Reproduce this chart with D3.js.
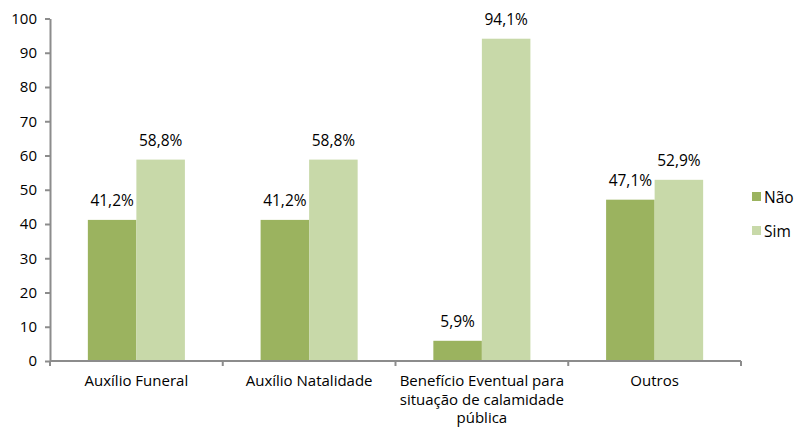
<!DOCTYPE html>
<html><head><meta charset="utf-8">
<script src="https://cdn.jsdelivr.net/npm/d3@7"></script>
<style>body{margin:0;background:#fff}text{font-family:"Open Sans","Noto Sans",sans-serif}</style>
</head><body>
<svg id="c" width="795" height="427"></svg>
<script>
const categories = [["Auxílio Funeral"],["Auxílio Natalidade"],["Benefício Eventual para","situação de calamidade","pública"],["Outros"]];
const seriesNames = ["Não","Sim"];
const nao = [41.2, 41.2, 5.9, 47.1];
const sim = [58.8, 58.8, 94.1, 52.9];
const yTicks = [0,10,20,30,40,50,60,70,80,90,100];
const colors = ["#9bb35f","#c8d9a9"];

const svg = d3.select("#c");
const x0 = 50, x1 = 741, yTop = 18.5, yBot = 361;
const x = d3.scaleBand().domain(d3.range(categories.length)).range([x0,x1]);
const xs = d3.scaleBand().domain([0,1]).range([0,x.bandwidth()]).paddingInner(0).paddingOuter(0.78);
const y = d3.scaleLinear().domain([0,100]).range([yBot,yTop]);
const axisColor = "#8c8c8c";

// bars
const data = [nao, sim];
data.forEach((vals,s)=>{
  svg.append("g").selectAll("rect").data(vals).join("rect")
    .attr("x",(d,i)=>x(i)+xs(s)).attr("width",xs.bandwidth())
    .attr("y",d=>y(d)).attr("height",d=>yBot-y(d)).attr("fill",colors[s]);
  svg.append("g").selectAll("text").data(vals).join("text")
    .attr("x",(d,i)=>x(i)+xs(s)+xs.bandwidth()/2).attr("y",d=>y(d)-14)
    .attr("text-anchor","middle").attr("font-size",15.5).attr("fill","#000")
    .text(d=>d.toFixed(1).replace(".",",")+"%");
});

// y axis
const ya = svg.append("g").attr("transform",`translate(${x0},0)`)
  .call(d3.axisLeft(y).tickValues(yTicks).tickSize(5).tickSizeOuter(0).tickPadding(8));
ya.select(".domain").attr("stroke",axisColor).attr("stroke-width",2);
ya.selectAll(".tick line").attr("stroke",axisColor).attr("stroke-width",2);
ya.selectAll(".tick text").attr("font-size",15).attr("fill","#000").attr("font-family","'Open Sans','Noto Sans',sans-serif");

// x axis
svg.append("line").attr("x1",x0).attr("x2",x1).attr("y1",yBot).attr("y2",yBot).attr("stroke",axisColor).attr("stroke-width",2);
const bounds = d3.range(categories.length+1).map(i=> i<categories.length ? x(i) : x1);
svg.append("g").selectAll("line").data(bounds).join("line")
  .attr("x1",d=>d).attr("x2",d=>d).attr("y1",yBot).attr("y2",yBot+5).attr("stroke",axisColor).attr("stroke-width",2);
categories.forEach((lines,i)=>{
  lines.forEach((l,j)=>svg.append("text").attr("x",x(i)+x.bandwidth()/2).attr("y",386+j*18.5)
    .attr("text-anchor","middle").attr("font-size",15).attr("fill","#000").text(l));
});

// legend
seriesNames.forEach((n,i)=>{
  const cy = 197 + i*34;
  svg.append("rect").attr("x",752).attr("y",cy-5).attr("width",9).attr("height",9).attr("fill",colors[i]);
  svg.append("text").attr("x",764).attr("y",cy+5.5).attr("font-size",15.5).attr("fill","#000").text(n);
});
</script>
</body></html>
